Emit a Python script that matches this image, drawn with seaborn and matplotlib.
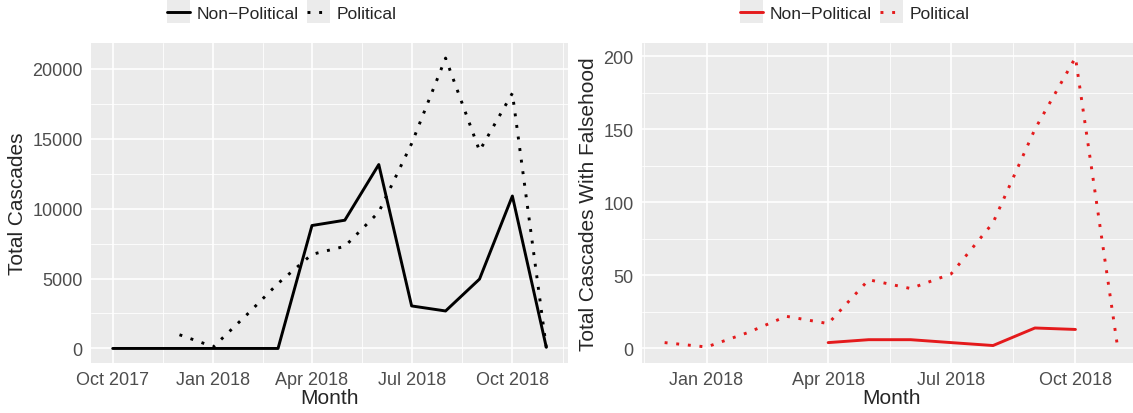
import pandas as pd
import numpy as np
import matplotlib
matplotlib.use('Agg')
import matplotlib.pyplot as plt
import matplotlib.dates as mdates
from matplotlib.patches import Rectangle
from matplotlib.lines import Line2D
from matplotlib.legend_handler import HandlerLine2D
import seaborn as sns

# 数据
months_left = pd.date_range('2017-10-01', '2018-11-01', freq='MS')
nonpol_total = [0, 0, 0, 0, 0, 0, 8790, 9170, 13150, 3040, 2680, 4960, 10900, 80]
pol_total_months = pd.date_range('2017-12-01', '2018-11-01', freq='MS')
pol_total = [980, 120, 2450, 4650, 6730, 7300, 9750, 14650, 20760, 14130, 18250, 60]

pol_false_months = pd.date_range('2017-12-01', '2018-11-01', freq='MS')
pol_false = [4, 1, 11, 22, 17, 47, 41, 51, 86, 150, 199, 2]
nonpol_false_months = pd.date_range('2018-04-01', '2018-10-01', freq='MS')
nonpol_false = [4, 6, 6, 4, 2, 14, 13]

type_order = ['Non\u2212Political', 'Political']

df_total = pd.concat([
    pd.DataFrame({'Month': months_left, 'count': nonpol_total, 'Type': type_order[0]}),
    pd.DataFrame({'Month': pol_total_months, 'count': pol_total, 'Type': type_order[1]}),
])
df_false = pd.concat([
    pd.DataFrame({'Month': nonpol_false_months, 'count': nonpol_false, 'Type': type_order[0]}),
    pd.DataFrame({'Month': pol_false_months, 'count': pol_false, 'Type': type_order[1]}),
])

sns.set_style('white')
plt.rcParams['font.family'] = ['Liberation Sans', 'DejaVu Sans']

fig = plt.figure(figsize=(11.33, 4.14), dpi=100)
ax1 = fig.add_axes([91 / 1133, 1 - 364 / 414, 477 / 1133, 320 / 414])
# 右图在原图中被裁掉了一点
ax2 = fig.add_axes([642 / 1133, 1 - 364 / 414, 498 / 1133, 320 / 414])

dash_map = {type_order[0]: '', type_order[1]: (1, 3)}
red = '#E41A1C'

sns.lineplot(data=df_total, x='Month', y='count', style='Type', style_order=type_order,
             dashes=dash_map, color='black', linewidth=2.1, legend=False, ax=ax1)
sns.lineplot(data=df_false, x='Month', y='count', style='Type', style_order=type_order,
             dashes=dash_map, color=red, linewidth=2.1, legend=False, ax=ax2)


def style_axis(ax, start, end, major_dates, ymax, ytop, ystep):
    ax.set_facecolor('#EBEBEB')
    for s in ax.spines.values():
        s.set_visible(False)
    majors = pd.to_datetime(major_dates)
    minors = majors[:-1] + (majors[1:] - majors[:-1]) / 2
    ax.set_xticks(majors[1:-1])
    ax.set_xticks(minors, minor=True)
    ax.xaxis.set_major_formatter(mdates.DateFormatter('%b %Y'))
    yt = np.arange(0, ytop + 1, ystep)
    ax.set_yticks(yt)
    ax.set_yticks(yt[:-1] + ystep / 2, minor=True)
    span = end - start
    ax.set_xlim(start - span * 0.05, end + span * 0.05)
    ax.set_ylim(-ymax * 0.05, ymax * 1.05)
    ax.grid(which='major', color='white', linewidth=1.2)
    ax.grid(which='minor', color='white', linewidth=0.6)
    ax.set_axisbelow(True)
    ax.tick_params(axis='both', which='major', length=4, width=1, color='#333333',
                   labelsize=13, labelcolor='#4D4D4D', pad=2)
    ax.tick_params(axis='both', which='minor', length=0)
    ax.set_xlabel('Month', fontsize=15, labelpad=0)


style_axis(ax1, pd.Timestamp('2017-10-01'), pd.Timestamp('2018-11-01'),
           ['2017-07-01', '2017-10-01', '2018-01-01', '2018-04-01', '2018-07-01', '2018-10-01', '2019-01-01'],
           20760, 20000, 5000)
style_axis(ax2, pd.Timestamp('2017-12-01'), pd.Timestamp('2018-11-01'),
           ['2017-10-01', '2018-01-01', '2018-04-01', '2018-07-01', '2018-10-01', '2019-01-01'],
           199, 200, 50)
ax1.set_ylim(-1040, 21840)
ax2.set_ylim(-9.95, 208.95)
ax1.set_ylabel('Total Cascades', fontsize=15, labelpad=4)
ax2.set_ylabel('Total Cascades With Falsehood', fontsize=15, labelpad=4)


class KeyHandler(HandlerLine2D):
    def create_artists(self, legend, orig_handle, xdescent, ydescent, width, height, fontsize, trans):
        bg = Rectangle((-xdescent, -ydescent + height / 2 - 8), width, 16, facecolor='#EBEBEB',
                       edgecolor='none', transform=trans)
        arts = super().create_artists(legend, orig_handle, xdescent, ydescent, width, height, fontsize, trans)
        return [bg] + list(arts)


def add_legend(color, xc):
    handles = [Line2D([], [], color=color, linewidth=2.1, linestyle='-'),
               Line2D([], [], color=color, linewidth=2.1, linestyle=(0, (1, 3)))]
    fig.legend(handles, type_order, loc='center', bbox_to_anchor=(xc / 1133, 1 - 14 / 414),
               ncol=2, frameon=False, fontsize=12.5, handlelength=1.3, handletextpad=0.4,
               columnspacing=0.5, handler_map={Line2D: KeyHandler()})


add_legend('black', 282)
add_legend(red, 855)

fig.savefig('out.png', dpi=100)
